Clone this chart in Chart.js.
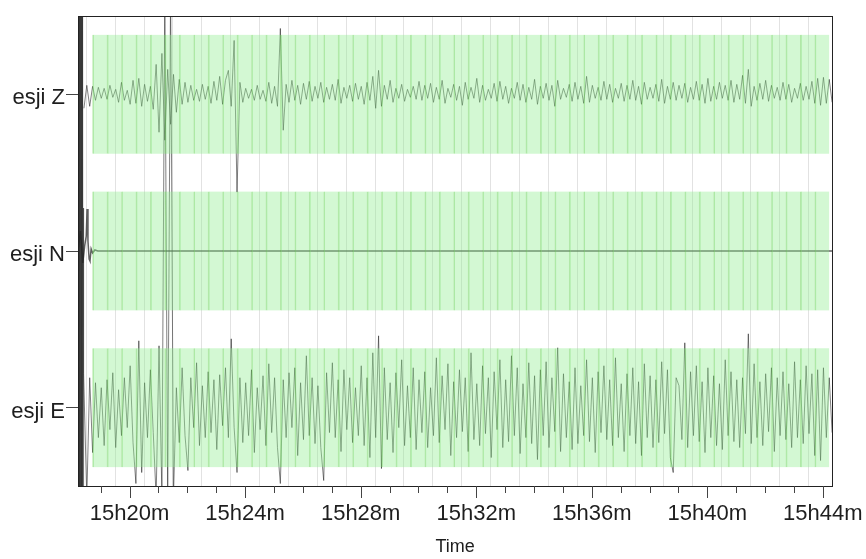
<!DOCTYPE html>
<html><head><meta charset="utf-8">
<script src="https://cdn.jsdelivr.net/npm/chart.js@4.4.1/dist/chart.umd.min.js"></script>
<style>html,body{margin:0;padding:0;background:#fff;}canvas{display:block;}</style>
</head><body>
<canvas id="c" width="866" height="559"></canvas>
<script>
// ---- data ----
const channels = ['esji Z', 'esji N', 'esji E'];
const channelOffsets = [2, 1, 0];
const tickMinutes = [20, 24, 28, 32, 36, 40, 44];
const tickLabels = ['15h20m', '15h24m', '15h28m', '15h32m', '15h36m', '15h40m', '15h44m'];
const axisTitle = 'Time';

// uniformly sampled traces (time in minutes after 15h00, one sample every 0.1 min)
const sampleStart = 18.42;
const sampleStep = 0.1;
const zValues = [
-14, 9, -12, 8, -6, 7, -4, 6, -5, 9, -3, 5, -8, 12, -6, 4, -10, 14,
-9, 16, -12, 10, -7, 8, -15, 30, -38, 41, -46, 25, -30, 20, -18, 15, -10, 12, -8, 9,
-6, 5, -7, 10, -5, 8, -9, 13, -6, 18, -10, 14, 24, -12, 54, -98, 12, -8, 6, -4,
5, -6, 9, -5, 4, -7, 12, -9, 8, -12, 66, -36, 10, -8, 14, -6, 9, -10, 11, -5,
13, -7, 8, -4, 12, -8, 7, -5, 10, -6, 15, -9, 7, -4, 9, -7, 11, -5, 8, -10,
12, -6, 18, -14, 24, -12, 9, -5, 14, -8, 6, -4, 10, -7, 5, -3, 8, -5, 13, -6,
9, -4, 11, -8, 7, -5, 14, -9, 6, -3, 10, -6, 8, -11, 12, -5, 7, -4, 16, -8,
9, -6, 5, -4, 11, -7, 13, -5, 8, -9, 6, -4, 12, -6, 10, -8, 7, -5, 15, -10,
8, -4, 11, -6, 9, -12, 14, -5, 6, -3, 10, -7, 12, -5, 8, -9, 18, -8, 9, -4,
7, -6, 13, -5, 10, -8, 6, -4, 11, -7, 9, -5, 14, -6, 8, -10, 12, -5, 7, -4,
10, -7, 15, -9, 8, -5, 12, -6, 9, -4, 11, -8, 7, -5, 13, -6, 10, -9, 16, -7,
8, -5, 12, -4, 9, -6, 14, -8, 10, -5, 19, -9, 25, -12, 8, -6, 11, -5, 14, -7,
9, -4, 7, -6, 12, -5, 10, -8, 6, -4, 11, -6, 8, -5, 13, -9, 16, -11, 17, -9,
15, -8];
const eValues = [
34, -90, 30, -45, 25, -30, 20, -38, 28, -22, 35, -40, 18, -28, 30, -20, 42, -35,
-76, 67, -65, 25, -30, 38, -25, -90, 62, -90, 420, -90, 420, -90, 20, -35, 40, -28, -63, 30,
-20, 45, -38, 22, -30, 36, -25, 28, -42, 33, -18, 40, -30, 69, -20, -65, 30, -35, 25, -28,
38, -45, 20, -22, 32, -38, 44, -25, 30, -40, -76, 28, -30, 35, -20, 40, -48, 25, -32, 52,
-28, 30, -36, 22, -40, -73, 35, -25, 45, -30, 28, -44, 38, -22, 30, -35, 20, -28, 42, -38,
30, -50, 55, -30, 72, -61, 40, -32, 25, -45, 35, -20, 48, -38, 22, -30, 40, -42, 28, -25,
36, -40, 20, -28, 50, -35, 32, -22, 44, -48, 26, -30, 38, -24, 30, -44, 55, -32, 24, -38,
42, -26, 30, -50, 36, -22, 48, -40, 28, -34, 52, -28, 40, -46, 24, -30, 45, -36, 32, -52,
38, -28, 46, -40, 30, -24, 60, -44, 34, -30, 26, -42, 40, -36, 22, -28, 48, -34, 30, -45,
36, -25, 42, -32, 28, -38, 50, -30, 24, -44, 34, -28, 40, -36, 26, -48, 44, -30, 32, -40,
28, -35, 46, -26, 38, -50, -65, 30, 22, -32, 65, -40, 36, -28, 42, -34, 26, -45, 40, -30,
32, -38, 24, -42, 48, -28, 36, -34, 28, -40, 30, -26, 74, -36, 44, -30, 26, -38, 34, -24,
40, -44, 30, -28, 36, -32, 24, -40, 46, -30, 28, -36, 42, -26, 34, -48, 38, -53, 40, -30,
30, -25];
// strong transient at the start of the E record
const eBurstTimes = [18.215,18.222,18.229,18.236,18.243,18.250,18.257,18.264,18.271,18.278,18.285,18.292,18.299,18.306,18.313,18.320,18.327,18.334,18.341,18.348,18.355,18.362,18.369,18.376,18.383,18.390,18.397,18.404,18.411];
const eBurstValues = [500,-500,500,-500,500,-500,500,-500,500,-500,500,-500,500,-500,500,-500,500,-500,500,-500,500,-500,500,-500,500,-500,200,-300,-90];
// N record (nearly flat)
const nTimes = [18.215, 18.30, 18.38, 18.45, 18.50, 18.53, 18.56, 18.60, 18.63, 18.67, 18.72, 18.80, 18.90, 44.32];
const nValues = [0, 20, -12, 6, 15, 42, 10, -8, -10, 2, -2, 1, 0, 0];

// analysis windows (start minute), each 0.5 min long
const windowStarts = [18.72,19.22,19.72,20.22,20.72,21.22,21.72,22.22,22.72,23.22,23.72,24.22,24.72,25.22,25.72,26.22,26.72,27.22,27.72,28.22,28.72,29.22,29.72,30.22,30.72,31.22,31.72,32.22,32.72,33.22,33.72,34.22,34.72,35.22,35.72,36.22,36.72,37.22,37.72,38.22,38.72,39.22,39.72,40.22,40.72,41.22,41.72,42.22,42.72,43.22,43.72];
const windowLength = 0.5;

// ---- display ----
const gain = 1 / 157;
const bandHalf = 0.38;
const traceColor = 'rgba(35,35,35,0.72)';

Chart.defaults.font.family = "'Liberation Sans', Arial, Helvetica, sans-serif";
Chart.defaults.color = '#1e1e1e';

const zData = zValues.map((v, i) => ({x: sampleStart + i * sampleStep, y: channelOffsets[0] + v * gain}));
const nData = nTimes.map((t, i) => ({x: t, y: channelOffsets[1] + nValues[i] * gain}));
const eData = eBurstTimes.map((t, i) => ({x: t, y: channelOffsets[2] + eBurstValues[i] * gain}))
  .concat(eValues.map((v, i) => ({x: sampleStart + i * sampleStep, y: channelOffsets[2] + v * gain})));

function windowDataset(off) {
  return {
    type: 'bar',
    data: windowStarts.map(s => ({x: s + windowLength / 2, y: [off - bandHalf, off + bandHalf]})),
    backgroundColor: 'rgba(144,238,144,0.4)',
    borderColor: 'rgba(110,210,90,0.5)',
    borderWidth: {left: 1, right: 0, top: 0, bottom: 0},
    borderSkipped: false,
    barPercentage: 1,
    categoryPercentage: 1,
    grouped: false,
    order: 0
  };
}
function traceDataset(data, width) {
  return {
    type: 'line', data, borderColor: traceColor, borderWidth: width, pointRadius: 0,
    tension: 0, fill: false, clip: 0, order: 1, borderJoinStyle: 'miter'
  };
}

const tickMarks = {
  id: 'tickMarks',
  afterDraw(chart) {
    const s = chart.scales.x, ctx = chart.ctx, b = chart.chartArea.bottom;
    ctx.save();
    ctx.strokeStyle = '#444'; ctx.lineWidth = 1;
    s.ticks.forEach(t => {
      const px = Math.round(s.getPixelForValue(t.value)) + 0.5;
      const len = tickMinutes.includes(t.value) ? 12 : 7;
      ctx.beginPath(); ctx.moveTo(px, b); ctx.lineTo(px, b + len); ctx.stroke();
    });
    ctx.restore();
  }
};
const frame = {
  id: 'frame',
  afterDatasetsDraw(chart) {
    const a = chart.chartArea, ctx = chart.ctx;
    ctx.save();
    ctx.strokeStyle = '#222'; ctx.lineWidth = 1;
    ctx.strokeRect(Math.round(a.left) + 0.5, Math.round(a.top) + 0.5, Math.round(a.right - a.left), Math.round(a.bottom - a.top));
    ctx.restore();
  }
};

new Chart(document.getElementById('c'), {
  type: 'line',
  data: {
    datasets: [
      windowDataset(channelOffsets[0]), windowDataset(channelOffsets[1]), windowDataset(channelOffsets[2]),
      traceDataset(zData, 0.8), traceDataset(nData, 1.5), traceDataset(eData, 0.8)
    ]
  },
  options: {
    responsive: false,
    animation: false,
    events: [],
    layout: {padding: {left: 0, top: 16, right: 31, bottom: 0}},
    plugins: {legend: {display: false}, tooltip: {enabled: false}, title: {display: false}},
    scales: {
      x: {
        type: 'linear', min: 18.215, max: 44.32, offset: false,
        afterFit: s => { s.height = 73; },
        border: {display: false},
        grid: {color: '#e2e2e2', lineWidth: 1, drawTicks: true, tickLength: 12, tickColor: 'rgba(0,0,0,0)'},
        ticks: {
          stepSize: 1, includeBounds: false, autoSkip: false, maxRotation: 0, padding: 3,
          font: {size: 22}, color: '#1e1e1e',
          callback: v => { const k = tickMinutes.indexOf(v); return k >= 0 ? tickLabels[k] : ''; }
        },
        title: {display: true, text: axisTitle, font: {size: 18}, color: '#1e1e1e', padding: {top: 0, bottom: 1}}
      },
      y: {
        type: 'linear', min: -0.5, max: 2.5,
        afterFit: s => { s.width = 78; },
        afterBuildTicks: s => { s.ticks = channelOffsets.map(v => ({value: v})); },
        border: {display: false},
        grid: {drawOnChartArea: false, drawTicks: true, tickLength: 12, tickColor: '#444'},
        ticks: {
          font: {size: 22, lineHeight: 0.36}, color: '#1e1e1e', padding: 1,
          callback: v => { const k = channelOffsets.indexOf(v); return k >= 0 ? ['', channels[k]] : ''; }
        }
      }
    }
  },
  plugins: [tickMarks, frame]
});
</script>
</body></html>
